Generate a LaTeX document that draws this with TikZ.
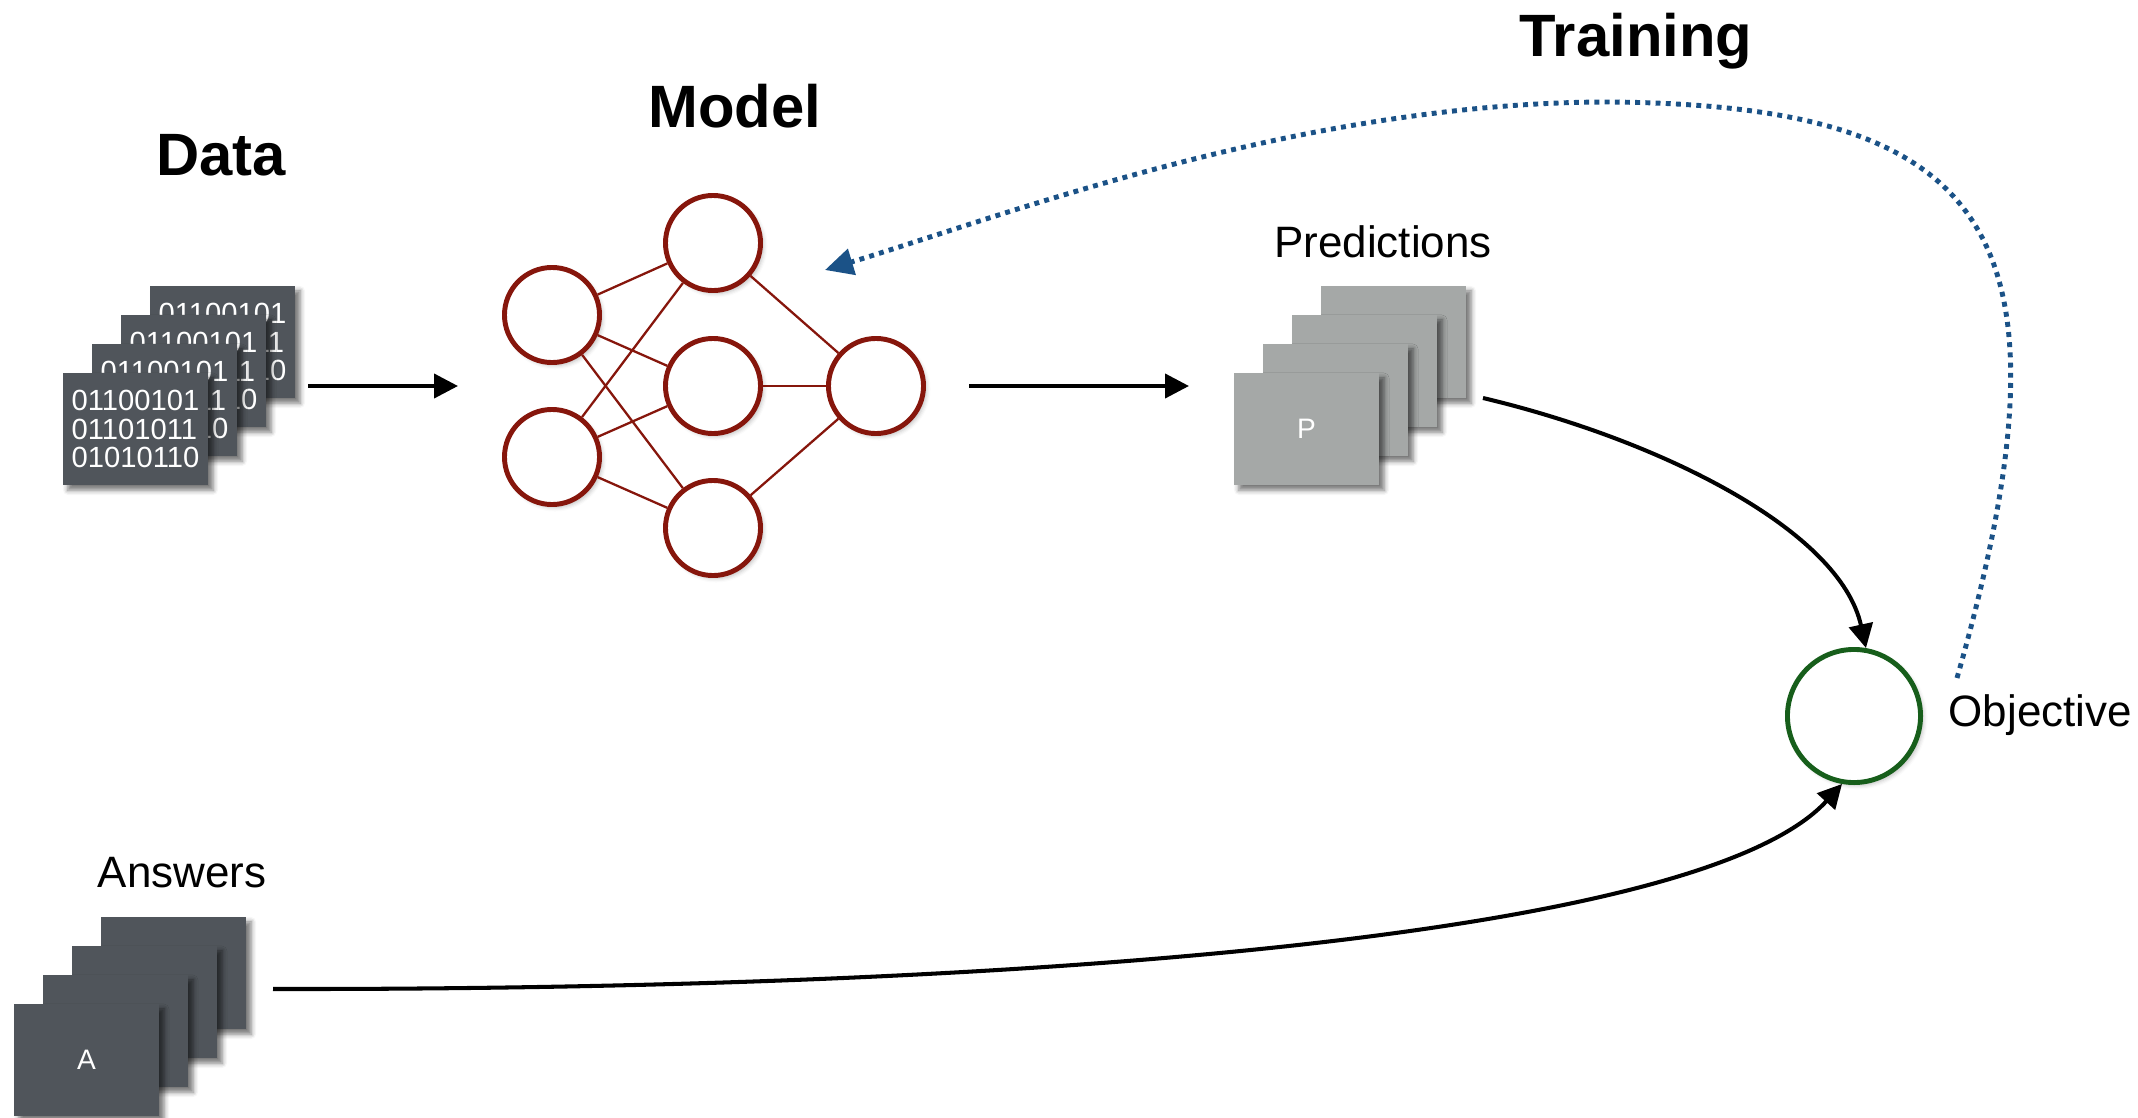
\documentclass[tikz,border=0pt]{standalone}
\usepackage{fontspec}
\setmainfont{Liberation Sans}
\usetikzlibrary{arrows.meta,shadows.blur}

\definecolor{slate}{HTML}{50555B}
\definecolor{ash}{HTML}{A5A8A7}
\definecolor{brick}{HTML}{86160C}
\definecolor{leaf}{HTML}{175E1B}
\definecolor{navy}{HTML}{1B5287}

\tikzset{
  card/.style={minimum width=1.45cm, minimum height=1.12cm, inner sep=0pt, outer sep=0pt, text=white,
    blur shadow={shadow xshift=0.05cm, shadow yshift=-0.05cm, shadow blur radius=0.05cm, shadow opacity=55}},
  datacard/.style={card, fill=slate, align=left, font=\fontsize{8.3}{8.1}\selectfont},
  predcard/.style={card, fill=ash, font=\fontsize{8}{9}\selectfont},
  anscard/.style={card, fill=slate, font=\fontsize{8}{9}\selectfont},
  neuron/.style={circle, draw=brick, line width=1.4pt, fill=white, minimum size=0.95cm, inner sep=0pt,
    blur shadow={shadow xshift=0.03cm, shadow yshift=-0.03cm, shadow blur radius=0.04cm, shadow opacity=25}},
  synapse/.style={draw=brick, line width=0.65pt},
  goal/.style={circle, draw=leaf, line width=1.4pt, fill=white, minimum size=1.33cm, inner sep=0pt,
    blur shadow={shadow xshift=0.03cm, shadow yshift=-0.03cm, shadow blur radius=0.04cm, shadow opacity=25}},
  flow/.style={line width=1.15pt, -{Triangle[length=6.8pt,width=6.8pt]}},
  feedback/.style={draw=navy, line width=1.4pt, dash pattern=on 1.4pt off 1.5pt, -{Triangle[length=8pt,width=7.5pt]}},
  heading/.style={font=\fontsize{17}{20}\selectfont\bfseries, inner sep=0pt},
  stacklabel/.style={font=\fontsize{12.5}{15}\selectfont, inner sep=0pt},
}

\begin{document}
\begin{tikzpicture}[x=0.01cm, y=-0.01cm]
  \useasboundingbox (0,0) rectangle (2138,1118);

  % titles
  \node[heading, anchor=base] (datatitle) at (221,175) {Data};
  \node[heading, anchor=base] (modeltitle) at (735,127) {Model};
  \node[heading, anchor=base] (traintitle) at (1636,57) {Training};

  % data stack
  \foreach \i in {3,2,1,0}
    \node[datacard] (data\i) at ({135.5+29*\i},{429-29*\i}) {01100101\\01101011\\01010110};

  % model
  \node[neuron] (in1) at (552,315) {};
  \node[neuron] (in2) at (552,457) {};
  \node[neuron] (hid1) at (713,243) {};
  \node[neuron] (hid2) at (713,386) {};
  \node[neuron] (hid3) at (713,528) {};
  \node[neuron] (out) at (876,386) {};
  \foreach \a in {in1,in2}
    \foreach \b in {hid1,hid2,hid3}
      \draw[synapse] (\a) -- (\b);
  \foreach \b in {hid1,hid2,hid3}
    \draw[synapse] (\b) -- (out);

  % predictions stack
  \node[stacklabel, anchor=base] (predlabel) at (1383,257) {Predictions};
  \foreach \i in {3,2,1}
    \node[predcard] (pred\i) at ({1306.5+29*\i},{429-29*\i}) {};
  \node[predcard] (pred0) at (1306.5,429) {P};

  % answers stack
  \node[stacklabel, anchor=base] (anslabel) at (182,887) {Answers};
  \foreach \i in {3,2,1}
    \node[anscard] (ans\i) at ({86.5+29*\i},{1060-29*\i}) {};
  \node[anscard] (ans0) at (86.5,1060) {A};

  % objective
  \node[goal] (obj) at (1854,716) {};
  \node[stacklabel, anchor=base west] (objlabel) at (1948,726) {Objective};

  % connectors
  \coordinate (dataout) at (308,386);
  \coordinate (modelin) at (458,386);
  \coordinate (modelout) at (969,386);
  \coordinate (predin) at (1189,386);
  \coordinate (predout) at (1483,398);
  \coordinate (ansout) at (273,989);
  \coordinate (objfb) at (1957,678);
  \coordinate (arctop) at (1609,102);
  \coordinate (modelfb) at (825,270);

  \draw[flow] (dataout) -- (modelin);
  \draw[flow] (modelout) -- (predin);
  \draw[flow] (predout) .. controls (1660,440) and (1840,530) .. (obj.80);
  \draw[flow] (ansout) .. controls (1000,990) and (1700,940) .. (obj.260);
  \draw[feedback] (objfb) .. controls (2085,230) and (1990,105) .. (arctop)
    .. controls (1300,102) and (1000,217) .. (modelfb);
\end{tikzpicture}
\end{document}
